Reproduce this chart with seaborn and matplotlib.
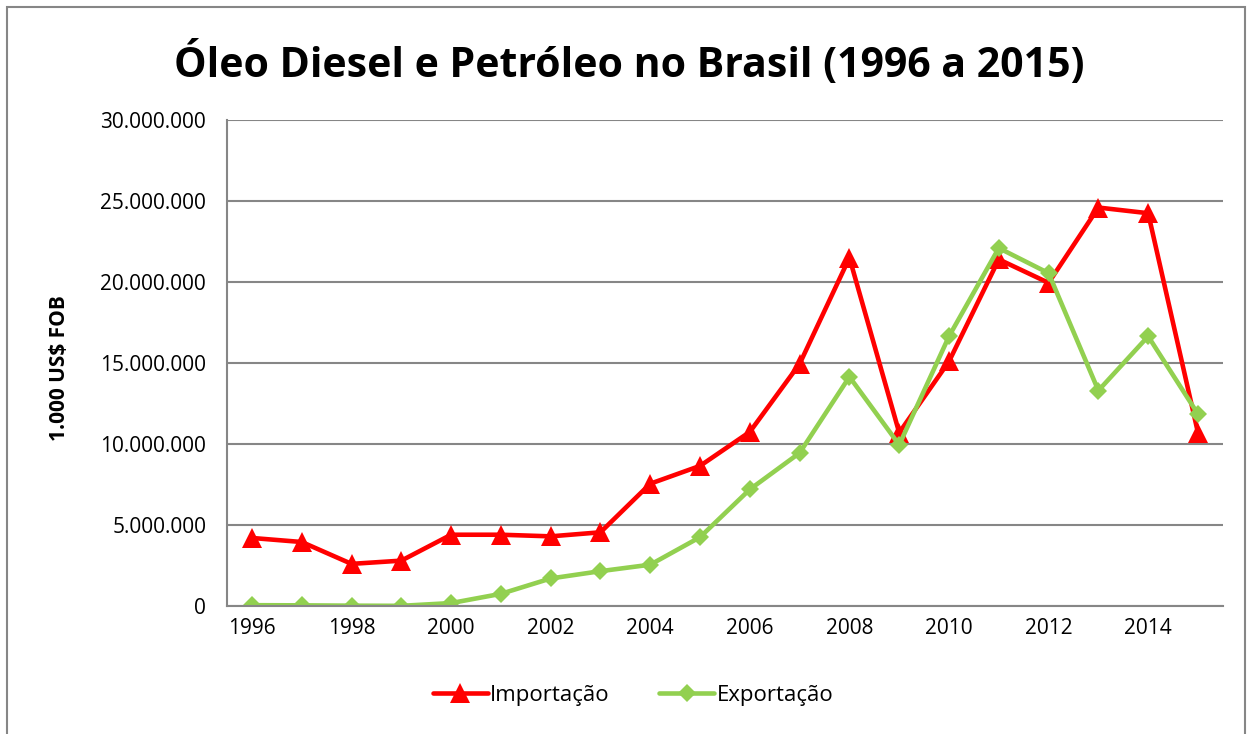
import pandas as pd
import numpy as np
import seaborn as sns
import matplotlib.pyplot as plt
from matplotlib.ticker import FuncFormatter, MultipleLocator
from matplotlib.patches import Rectangle
from matplotlib.lines import Line2D

# dados (1.000 US$ FOB)
anos = list(range(1996, 2016))
importacao = [4200000, 3950000, 2600000, 2800000, 4400000, 4400000, 4300000, 4550000,
              7550000, 8650000, 10750000, 14950000, 21500000, 10700000, 15100000,
              21400000, 19950000, 24600000, 24250000, 10700000]
exportacao = [50000, 40000, 20000, 10000, 180000, 750000, 1700000, 2150000,
              2550000, 4250000, 7200000, 9450000, 14150000, 9950000, 16650000,
              22100000, 20550000, 13300000, 16650000, 11850000]
series = ["Importação", "Exportação"]
cores = {"Importação": "#ff0000", "Exportação": "#92d050"}
marcadores = {"Importação": "^", "Exportação": "D"}
tamanhos = {"Importação": 14, "Exportação": 9.5}

df = pd.DataFrame({
    "Ano": anos * 2,
    "Valor": importacao + exportacao,
    "Serie": [series[0]] * len(anos) + [series[1]] * len(anos),
})

sns.set_style("white")
plt.rcParams["font.family"] = ["Open Sans", "DejaVu Sans"]
plt.rcParams["text.color"] = "black"
plt.rcParams["axes.labelcolor"] = "black"
plt.rcParams["xtick.labelcolor"] = "black"
plt.rcParams["ytick.labelcolor"] = "black"

fig = plt.figure(figsize=(12.51, 7.34), dpi=100)
ax = fig.add_axes([0.1815, 0.1744, 0.796, 0.662])

for s in series:
    sns.lineplot(data=df[df["Serie"] == s], x="Ano", y="Valor", color=cores[s],
                 marker=marcadores[s], markersize=tamanhos[s], markeredgewidth=0,
                 linewidth=3.3, ax=ax, legend=False)

grid_cor = "#868686"
ax.set_ylim(0, 30000000)
ax.set_xlim(1995.5, 2015.5)
ax.yaxis.set_major_locator(MultipleLocator(5000000))
ax.yaxis.set_major_formatter(FuncFormatter(lambda v, p: f"{int(v):,}".replace(",", ".")))
ax.set_xticks(list(range(1996, 2016, 2)))
ax.set_xticks(np.arange(1995.5, 2016, 1), minor=True)
ax.tick_params(axis="x", which="major", length=0, pad=9, labelsize=15)
ax.tick_params(axis="x", which="minor", length=6, width=1.5, color=grid_cor, direction="out")
ax.tick_params(axis="y", which="major", length=6, width=1.5, color=grid_cor, direction="out",
               labelsize=15, pad=9)
ax.grid(axis="y", color=grid_cor, linewidth=1.5)
ax.set_axisbelow(True)
for s in ["top", "right"]:
    ax.spines[s].set_visible(False)
for s in ["left", "bottom"]:
    ax.spines[s].set_color(grid_cor)
    ax.spines[s].set_linewidth(1.5)

ax.set_xlabel("")
ax.set_ylabel("1.000 US$ FOB", fontsize=15, fontweight="bold")
ax.yaxis.set_label_coords(-0.158, 0.49)

fig.text(0.503, 0.912, "Óleo Diesel e Petróleo no Brasil (1996 a 2015)", ha="center",
         va="center", fontsize=29.5, fontweight="bold")

handles = [Line2D([], [], color=cores[s], marker=marcadores[s], linewidth=3.3,
                  markersize=tamanhos[s], markeredgewidth=0) for s in series]
fig.legend(handles, series, loc="center", bbox_to_anchor=(0.506, 0.053), ncol=2,
           frameon=False, fontsize=16, handlelength=2.5, columnspacing=2.2,
           handletextpad=0.1)

fig.patches.append(Rectangle((0.0056, -0.01), 0.9895, 1.0, transform=fig.transFigure,
                             fill=False, edgecolor=grid_cor, linewidth=1.5))

fig.savefig("out.png", dpi=100)
